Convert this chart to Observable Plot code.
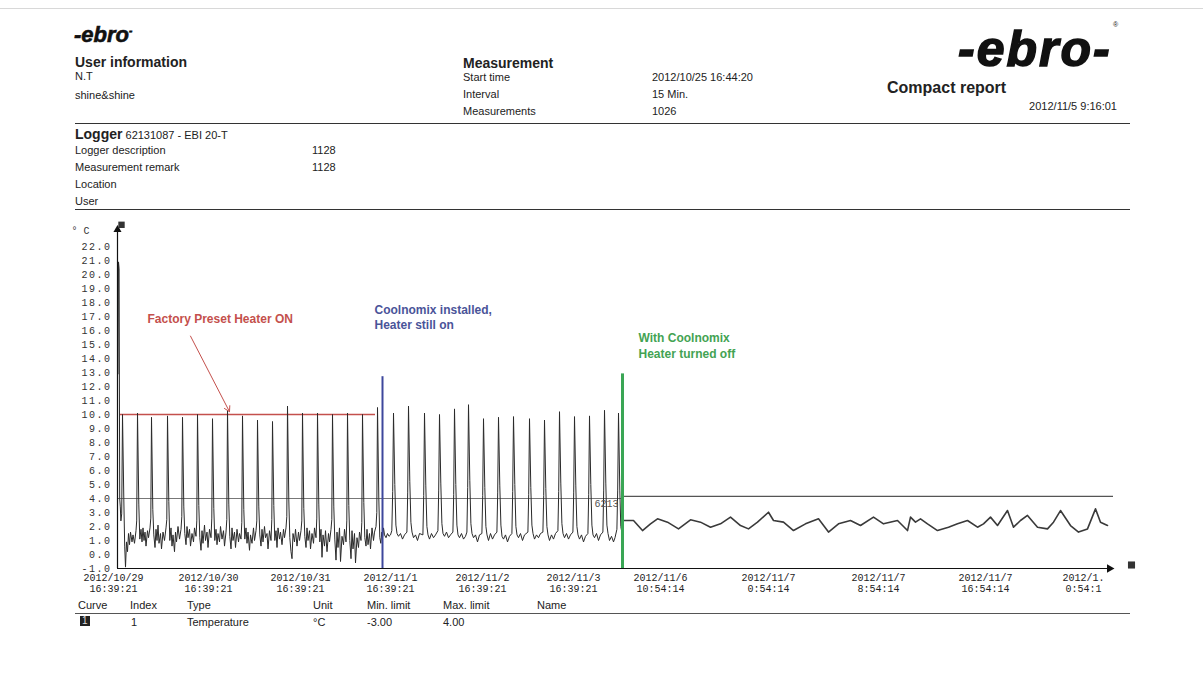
<!DOCTYPE html>
<html><head><meta charset="utf-8">
<script src="https://cdn.jsdelivr.net/npm/d3@7"></script>
<script src="https://cdn.jsdelivr.net/npm/@observablehq/plot@0.6"></script>
<style>
body{margin:0;background:#fff;font-family:"Liberation Sans",Arial,sans-serif;color:#222}
#page{position:relative;width:1203px;height:674px;overflow:hidden;background:#fff}
.t{position:absolute;white-space:nowrap;font-size:11px;line-height:1}
.b14{font-size:14px;font-weight:bold}
.hr{position:absolute;height:1px;background:#333}
#chart{position:absolute;left:0;top:215px}
[aria-label="y-axis tick label"] text{letter-spacing:1.5px}
.logo{font-weight:bold;font-style:italic;position:absolute;white-space:nowrap;line-height:1;color:#111}
</style>
</head><body>
<div id="page">
  <div class="hr" style="left:0;top:8px;width:1203px;background:#d8d8d8"></div>
  <div class="logo" style="left:74px;top:24px;font-size:22px;-webkit-text-stroke:0.6px #111">-ebro<span style="font-size:10px;vertical-align:8px">-</span></div>
  <div class="t b14" style="left:75px;top:55px">User information</div>
  <div class="t" style="left:75px;top:71px">N.T</div>
  <div class="t" style="left:75px;top:90px">shine&amp;shine</div>
  <div class="t b14" style="left:463px;top:56px">Measurement</div>
  <div class="t" style="left:463px;top:72px">Start time</div>
  <div class="t" style="left:463px;top:89px">Interval</div>
  <div class="t" style="left:463px;top:106px">Measurements</div>
  <div class="t" style="left:652px;top:72px">2012/10/25 16:44:20</div>
  <div class="t" style="left:652px;top:89px">15 Min.</div>
  <div class="t" style="left:652px;top:106px">1026</div>
  <div class="logo" style="left:958px;top:24px;font-size:50px;letter-spacing:2px;-webkit-text-stroke:1.5px #111">-ebro-</div>
  <div class="t" style="left:1113px;top:21px;font-size:7px">®</div>
  <div class="t" style="left:887px;top:80px;font-size:16px;font-weight:bold">Compact report</div>
  <div class="t" style="right:86px;top:101px">2012/11/5 9:16:01</div>
  <div class="hr" style="left:75px;top:123px;width:1055px"></div>
  <div class="t" style="left:75px;top:127px"><span class="b14">Logger</span> 62131087 - EBI 20-T</div>
  <div class="t" style="left:75px;top:145px">Logger description</div>
  <div class="t" style="left:312px;top:145px">1128</div>
  <div class="t" style="left:75px;top:162px">Measurement remark</div>
  <div class="t" style="left:312px;top:162px">1128</div>
  <div class="t" style="left:75px;top:179px">Location</div>
  <div class="t" style="left:75px;top:196px">User</div>
  <div class="hr" style="left:75px;top:209px;width:1055px"></div>
  <div id="chart"></div>
  <div class="t" style="left:78px;top:600px">Curve</div>
  <div class="t" style="left:130px;top:600px">Index</div>
  <div class="t" style="left:187px;top:600px">Type</div>
  <div class="t" style="left:313px;top:600px">Unit</div>
  <div class="t" style="left:367px;top:600px">Min. limit</div>
  <div class="t" style="left:443px;top:600px">Max. limit</div>
  <div class="t" style="left:537px;top:600px">Name</div>
  <div class="hr" style="left:75px;top:613px;width:1055px;background:#555"></div>
  <div class="t" style="left:80px;top:616px;background:#222;color:#ddd;font-size:10px;padding:0 2px">1</div>
  <div class="t" style="left:131px;top:617px">1</div>
  <div class="t" style="left:187px;top:617px">Temperature</div>
  <div class="t" style="left:313px;top:617px">°C</div>
  <div class="t" style="left:367px;top:617px">-3.00</div>
  <div class="t" style="left:443px;top:617px">4.00</div>
</div>
<script>
// y ticks (°C)
const yTicks = [-1,0,1,2,3,4,5,6,7,8,9,10,11,12,13,14,15,16,17,18,19,20,21,22];
// x axis: position along the (spliced) record, with its printed labels
const tickPos = [-4, 91, 183, 273, 365, 456, 543, 651, 761, 868, 966];
const tickLabels = [
  "2012/10/29\n16:39:21", "2012/10/30\n16:39:21", "2012/10/31\n16:39:21",
  "2012/11/1\n16:39:21", "2012/11/2\n16:39:21", "2012/11/3\n16:39:21",
  "2012/11/6\n10:54:14", "2012/11/7\n0:54:14", "2012/11/7\n8:54:14",
  "2012/11/7\n16:54:14", "2012/1.\n0:54:1"
];
// factory preset, heater on: [position, °C]
const heaterOn = [
[0.5,12.9],[1,20.9],[1.6,20.4],[2.2,4.0],[2.8,3.4],[3.4,2.4],[4.2,2.9],[5,10.0],
[6.3,4.0],[7.2,0.6],[8,-0.9],[9,0.9],[10,0.2],[11,1.5],[12,0.7],[13,1.6],[14.5,0.9],[15.5,1.4],[17,0.8],[18.5,1.7],[19.2,2.4],[20,10.1],
[21.3,3.6],[22.3,1.1],[23.5,1.8],[24.5,0.9],[25.5,1.9],[26.5,1.0],[27.5,1.6],[28.5,0.6],[30,1.7],[31,1.2],[32.5,1.9],[33.3,2.6],[34,9.8],
[35.3,3.2],[36.3,1.4],[37.5,0.5],[38.5,1.8],[39.5,1.0],[40.5,2.1],[41.5,0.8],[43,1.5],[44,0.4],[45.5,1.6],[47,1.0],[48.5,1.9],[49.3,2.5],[50,9.9],
[51.3,3.8],[52.3,1.0],[53.5,1.9],[54.5,0.6],[55.5,1.4],[57,0.2],[58,1.6],[59,0.9],[60.5,2.0],[62,1.1],[63.5,1.8],[64.3,2.7],[65,9.8],
[66.3,3.4],[67.3,1.5],[68.5,0.7],[69.5,2.0],[70.5,1.2],[72,1.8],[73,0.6],[74.5,1.5],[76,0.9],[77,1.9],[78.5,1.3],[79.3,2.4],[80,10.0],
[81.3,3.5],[82.3,1.2],[83.5,0.3],[84.5,1.7],[85.5,0.8],[87,2.1],[88,1.0],[89.5,1.6],[90.5,0.5],[92,1.8],[93.5,1.2],[94.3,2.6],[95,9.7],
[96.3,3.3],[97.3,1.0],[98.5,1.8],[99.5,0.7],[100.5,1.5],[102,0.9],[103,2.0],[104.5,1.1],[106,1.7],[107,0.6],[108.5,1.6],[109.3,2.5],[110,10.3],
[111.3,3.6],[112.3,1.3],[113.5,0.4],[114.5,1.9],[115.5,1.0],[117,1.6],[118,0.5],[119.5,1.8],[121,0.9],[122,1.5],[123.5,1.1],[124.3,2.3],[125,9.9],
[126.3,3.2],[127.3,1.1],[128.5,1.9],[129.5,0.8],[130.5,1.6],[132,0.3],[133,1.4],[134.5,0.8],[136,1.9],[137,1.0],[138.5,1.7],[139.3,2.4],[140,9.6],
[141.3,3.4],[142.3,1.4],[143.5,0.6],[144.5,1.8],[145.5,0.9],[147,2.0],[148,1.2],[149.5,1.5],[150.5,0.4],[152,1.7],[153.5,1.0],[154.3,2.5],[155,9.5],
[156.3,3.5],[157.3,1.0],[158.5,1.7],[159.5,0.5],[160.5,1.9],[162,1.1],[163,1.6],[164.5,0.7],[166,1.8],[167,1.2],[168.5,1.9],[169.3,2.7],[170,10.6],
[171.3,3.9],[172.3,1.2],[173.5,0.2],[174.5,-0.3],[175.5,1.5],[177,0.9],[178,1.8],[179.5,0.6],[181,1.6],[182,1.0],[183.5,1.7],[184.3,2.4],[185,10.1],
[186.3,3.3],[187.3,1.3],[188.5,0.5],[189.5,1.9],[190.5,1.0],[192,1.7],[193,0.4],[194.5,1.5],[196,0.8],[197,1.9],[198.5,1.2],[199.3,2.6],[200,10.1],
[201.3,3.6],[202.3,0.9],[203.5,1.8],[204.5,-0.2],[205.5,1.4],[207,0.6],[208,1.7],[209.5,0.2],[211,1.5],[212,0.9],[213.5,1.8],[214.3,2.5],[215,10.0],
[216.3,3.4],[217.3,1.1],[218.5,-0.4],[219.5,1.6],[220.5,0.5],[222,1.9],[223,-0.5],[224.5,1.3],[226,0.7],[227,1.8],[228.5,0.9],[229.3,2.4],[230,10.1],
[231.3,3.5],[232.3,1.0],[233.5,-0.3],[234.5,1.7],[235.5,0.4],[237,1.5],[238,-0.6],[239.5,1.2],[241,0.5],[242,1.6],[243.5,1.0],[244.3,2.3],[245,10.0],
[246.3,3.7],[247.3,1.2],[248.5,0.6],[249.5,1.8],[250.5,0.7],[252,1.5],[253,0.4],[254.5,1.9],[256,1.0],[257,1.6],[258.5,2.0],[259.3,3.0],[260,10.5],
[261.3,4.0],[262.3,1.2],[263.3,0.8],[264.3,1.6],[265,1.2]
];
// Coolnomix installed, heater still on
const coolHeater = [
[265,1.2],[266,1.9],[267,1.4],[268.5,1.2],[270,1.5],[271.5,1.3],[273,1.4],[274.3,1.7],[275.2,4.5],
[276,10.1],[277.3,5.0],[278.4,2.1],[279.5,1.5],[281,1.3],[283,1.5],[285,1.1],[287,1.4],[289.4,1.6],[290.2,4.4],
[291,10.6],[292.3,5.2],[293.4,2.3],[294.5,1.6],[296,1.2],[298,1.4],[300,1.0],[302,1.5],[305.4,1.4],[306.2,4.2],
[307,10.1],[308.3,4.9],[309.4,2.0],[310.5,1.4],[312,1.1],[314,1.5],[316,1.2],[318,1.4],[320.4,1.7],[321.2,4.6],
[322,10.0],[323.3,5.1],[324.4,2.2],[325.5,1.5],[327,1.3],[329,1.6],[331,1.2],[333,1.4],[335.4,1.6],[336.2,4.3],
[337,10.4],[338.3,5.0],[339.4,2.1],[340.5,1.4],[342,1.2],[344,1.5],[346,1.1],[348,1.3],[349.4,1.6],[350.2,4.8],
[351,10.7],[352.3,5.3],[353.4,2.2],[354.5,1.5],[356,1.2],[358,1.4],[360,0.9],[362,1.4],[364.4,1.5],[365.2,4.2],
[366,9.7],[367.3,4.8],[368.4,2.0],[369.5,1.4],[371,1.0],[373,1.5],[375,1.1],[377,1.4],[379.4,1.6],[380.2,4.4],
[381,9.8],[382.3,4.9],[383.4,2.1],[384.5,1.3],[386,1.1],[388,1.4],[390,0.9],[392,1.3],[394.4,1.5],[395.2,4.5],
[396,9.85],[397.3,5.0],[398.4,2.0],[399.5,1.4],[401,1.2],[403,1.5],[405,1.0],[407,1.4],[410.4,1.6],[411.2,4.3],
[412,9.7],[413.3,4.8],[414.4,2.1],[415.5,1.5],[417,1.1],[419,1.4],[421,1.2],[423,1.5],[425.4,1.6],[426.2,4.2],
[427,9.6],[428.3,4.7],[429.4,2.0],[430.5,1.4],[432,1.0],[434,1.4],[436,1.1],[438,1.5],[440.4,1.7],[441.2,4.5],
[442,10.2],[443.3,5.1],[444.4,2.2],[445.5,1.5],[447,1.2],[449,1.5],[451,1.1],[453,1.4],[455.4,1.6],[456.2,4.4],
[457,9.85],[458.3,4.9],[459.4,2.0],[460.5,1.4],[462,1.1],[464,1.4],[466,0.9],[468,1.3],[470.4,1.5],[471.2,4.3],
[472,9.9],[473.3,5.0],[474.4,2.1],[475.5,1.4],[477,1.2],[479,1.5],[481,1.0],[483,1.4],[485.4,1.6],[486.2,4.6],
[487,10.3],[488.3,5.1],[489.4,2.1],[490.5,1.5],[492,1.0],[494,1.3],[496,0.9],[497.5,1.2],[499.4,1.8],[500.2,4.6],
[501,10.1],[502.3,4.6],[503.3,2.0],[504.3,1.6]
];
// Coolnomix, heater turned off
const coolOnly = [
[506,2.43],[516,2.43],[525,1.71],[533,2.19],[540,2.55],[550,2.31],[561,1.83],[573,2.48],[583,2.31],[593,1.95],
[603,2.19],[613,2.67],[623,2.07],[631,1.83],[640,2.31],[651,3.02],[656,2.43],[666,2.31],[676,1.71],[688,2.19],
[701,2.55],[711,1.6],[721,2.19],[733,2.43],[743,2.07],[756,2.67],[766,2.19],[780,2.43],[790,1.71],[793,2.67],
[798,2.31],[803,2.55],[810,2.19],[820,1.71],[831,1.95],[840,2.19],[850,2.43],[860,1.95],[866,2.19],[873,2.67],
[880,2.07],[890,3.14],[896,1.95],[903,2.43],[910,2.79],[920,1.95],[930,1.83],[936,2.31],[943,3.14],[953,2.07],
[961,1.6],[970,1.83],[978,3.26],[983,2.31],[990,2.07]
];
// annotations
const noteText = ["Factory Preset Heater ON", "Coolnomix installed,\nHeater still on", "With Coolnomix\nHeater turned off"];
const noteX = [30, 257, 521];
const noteY = [16.86, 17.0, 14.96];
const noteColor = ["#c4504c", "#4a5499", "#43a353"];
const phaseX = [265, 505];      // blue / green markers
const phaseTop = [12.7, 12.9];
const heaterSetpoint = 10;      // red line
const maxLimit = 4;             // gray limit line

const labelMap = new Map(tickPos.map((p, i) => [p, tickLabels[i]]));
const notes = noteText.map((t, i) => ({t, x: noteX[i], y: noteY[i], c: noteColor[i]}));
const X = d => d[0], Y = d => d[1];
const mono = "Liberation Mono";

const chart = Plot.plot({
  width: 1203, height: 385,
  marginLeft: 107, marginRight: 90, marginTop: 17, marginBottom: 32,
  x: {domain: [-10, 996]},
  y: {domain: [-1, 23]},
  style: {background: "white", overflow: "visible", color: "#222"},
  marks: [
    Plot.axisY({ticks: yTicks, anchor: "left", label: null, tickSize: 0, tickPadding: 2, dx: 6,
      tickFormat: d => d.toFixed(1), fontFamily: mono, fontSize: 10, fill: "#333"}),
    Plot.axisX({ticks: tickPos, anchor: "bottom", label: null, tickSize: 0, tickPadding: 5,
      tickFormat: d => labelMap.get(d), fontFamily: mono, fontSize: 10, lineHeight: 1.1, fill: "#222"}),
    Plot.ruleY([maxLimit], {x1: 0, x2: 505, stroke: "#777", strokeWidth: 1}),
    Plot.ruleY([maxLimit + 0.15], {x1: 505, x2: 996, stroke: "#555", strokeWidth: 1.3}),
    Plot.ruleY([heaterSetpoint], {x1: 3, x2: 258, stroke: "#c4504c", strokeWidth: 1.3}),
    Plot.line(heaterOn, {x: X, y: Y, stroke: "#2a2a2a", strokeWidth: 1}),
    Plot.line(coolHeater, {x: X, y: Y, stroke: "#2a2a2a", strokeWidth: 1}),
    Plot.line(coolOnly, {x: X, y: Y, stroke: "#3a3a3a", strokeWidth: 1.6}),
    Plot.ruleX([phaseX[0]], {y1: -1, y2: phaseTop[0], stroke: "#3d479c", strokeWidth: 2}),
    Plot.ruleX([phaseX[1]], {y1: -1, y2: phaseTop[1], stroke: "#3aa655", strokeWidth: 3}),
    Plot.text(["6213"], {x: 477, y: 3.65, text: d => d, fontFamily: mono, fontSize: 10, fill: "#555", textAnchor: "start"}),
    Plot.arrow([0], {x1: 73, y1: 15.6, x2: 112, y2: 10.2, stroke: "#c4504c", strokeWidth: 1, headLength: 9}),
    Plot.text(notes, {x: "x", y: "y", text: "t", fill: "c", textAnchor: "start", fontFamily: "Liberation Sans",
      fontWeight: "bold", fontSize: 12, lineHeight: 1.3}),
    // axes lines and arrows
    Plot.ruleX([0], {y1: -1, y2: 23.3, stroke: "#111", strokeWidth: 1.2}),
    Plot.ruleY([-1], {x1: 0, x2: 992, stroke: "#111", strokeWidth: 1.2}),
    Plot.dot([0], {x: 0, y: 23.2, symbol: "triangle", r: 3, fill: "#111", stroke: "none"}),
    Plot.dot([0], {x: 992, y: -1, symbol: "triangle", rotate: 90, r: 3.2, fill: "#111", stroke: "none"}),
    Plot.dot([0], {x: 4, y: 23.55, symbol: "square", r: 3.6, fill: "#333", stroke: "none"}),
    Plot.dot([0], {x: 1014, y: -0.75, symbol: "square", r: 4, fill: "#333", stroke: "none"}),
    Plot.text(["° C"], {x: -37, y: 23.1, text: d => d, fontFamily: mono, fontSize: 10, fill: "#333"})
  ]
});
document.getElementById("chart").appendChild(chart);
</script>
</body></html>
